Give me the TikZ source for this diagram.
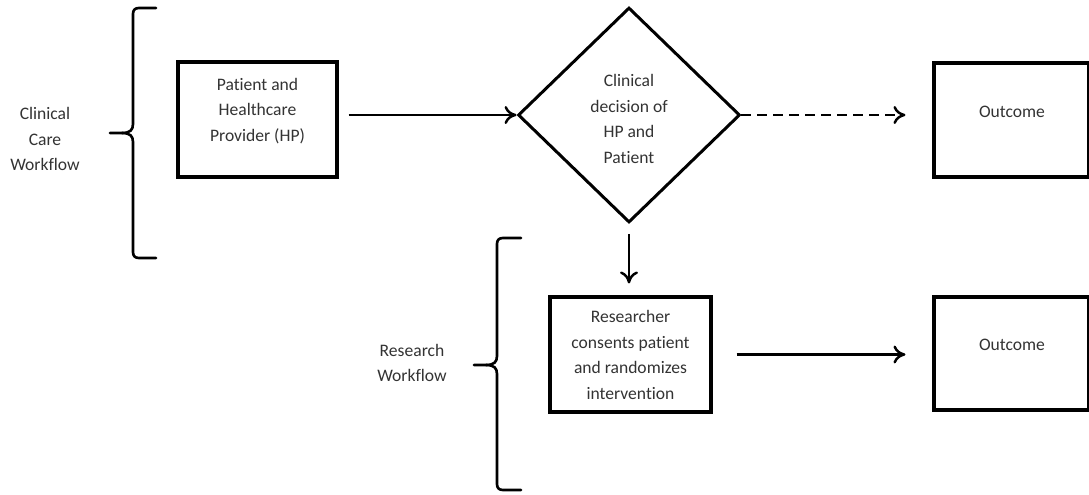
\documentclass[tikz,border=0pt]{standalone}
\usepackage{fontspec}
\setmainfont{Carlito}[Ligatures=NoCommon]
\usetikzlibrary{shapes.geometric,arrows.meta}

\tikzset{
  box/.style={draw, line width=1.8pt, minimum width=3.2cm, minimum height=2.3cm, inner sep=0pt},
  decision/.style={draw, diamond, line width=1.7pt, minimum width=4.44cm, minimum height=4.3cm, inner sep=0pt},
  txt/.style={align=center, inner sep=0pt, font=\fontsize{10}{14.5}\selectfont, text=black!80},
  flow/.style={line width=1.4pt, -{To[length=2.4mm,width=3.6mm]}},
  brace/.style={line width=1.5pt, line join=round, line cap=round}
}

\begin{document}
\begin{tikzpicture}[x=0.02cm, y=-0.02cm]
  \useasboundingbox (0,0) rectangle (1089,494);

  % Clinical care workflow
  \node[txt] (care) at (45,139) {Clinical\\Care\\Workflow};
  \draw[brace] (156,8) -- (139,8) .. controls (135,8) and (133,10) .. (133,14) -- (133,124)
    .. controls (133,130) and (130,133) .. (122,133) -- (110,133);
  \draw[brace] (156,258) -- (139,258) .. controls (135,258) and (133,256) .. (133,252) -- (133,142)
    .. controls (133,136) and (130,133) .. (122,133);

  \node[box, minimum width=3.18cm] (hp) at (257.5,119.5) {};
  \node[txt] (hptext) at (257.5,111) {Patient and\\Healthcare\\Provider (HP)};

  % Decision
  \node[decision] (dec) at (629,115) {};
  \node[txt] (dectext) at (629,119) {Clinical\\decision of\\HP and\\Patient};

  \node[box, minimum width=3.1cm, minimum height=2.28cm] (out1) at (1011.5,120) {};
  \node[txt] (out1text) at (1012,112) {Outcome};

  % Research workflow
  \node[txt] (research) at (412,363) {Research\\Workflow};
  \draw[brace] (521,238) -- (503,238) .. controls (499,238) and (497,240) .. (497,244) -- (497,356)
    .. controls (497,362) and (494,365) .. (486,365) -- (474,365);
  \draw[brace] (521,490) -- (503,490) .. controls (499,490) and (497,488) .. (497,484) -- (497,374)
    .. controls (497,368) and (494,365) .. (486,365);

  \node[box, minimum width=3.22cm] (rand) at (630.5,354.5) {};
  \node[txt] (randtext) at (630.5,355) {Researcher\\consents patient\\and randomizes\\intervention};

  \node[box, minimum width=3.1cm, minimum height=2.26cm] (out2) at (1011.5,353.5) {};
  \node[txt] (out2text) at (1012,345) {Outcome};

  % Arrows
  \draw[flow, shorten <=0.2cm] (hp.east |- dec.west) -- (dec.west);
  \draw[flow, dash pattern=on 0.2cm off 0.12cm, shorten >=0.54cm] (dec.east) -- (out1.west |- dec.east);
  \draw[flow, shorten <=0.2cm, shorten >=0.24cm] (dec.south) -- (dec.south |- rand.north);
  \draw[flow, shorten <=0.48cm, shorten >=0.54cm] (rand.east) -- (out2.west |- rand.east);

\end{tikzpicture}
\end{document}
